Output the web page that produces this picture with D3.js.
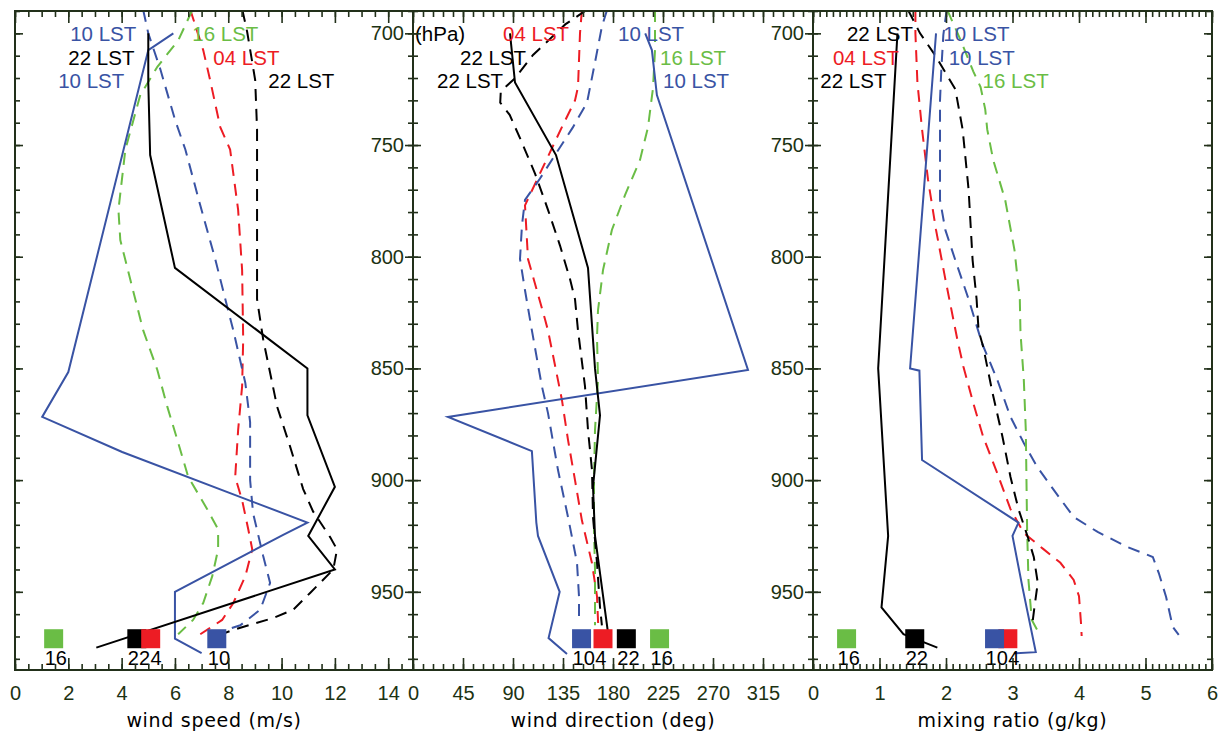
<!DOCTYPE html>
<html><head><meta charset="utf-8">
<script src="https://cdn.jsdelivr.net/npm/d3@7"></script>
<style>body{margin:0;background:#fff}svg{display:block}</style>
</head><body><svg id="c" width="1222" height="731"></svg>
<script>
// ---------- DATA ----------
const pressureMajor = [700, 750, 800, 850, 900, 950];
const speedTicks = [0, 2, 4, 6, 8, 10, 12, 14];
const dirTicks = [0, 45, 90, 135, 180, 225, 270, 315];
const mixTicks = [0, 1, 2, 3, 4, 5, 6];

const timeColors = {"04": "#ed1c24", "10": "#3953a4", "16": "#6abd45", "22": "#000000"};

// [pressure hPa, value]
// wind speed (m/s)
const speed10Obs = [[700,5.94],[707.5,5.0],[851.6,2.0],[871.7,1.02],[887.4,4.02],[919,10.97],[924.5,10.06],[950,6.0],[971,6.0],[977.4,7.0]];
const speed22Obs = [[700,5.0],[722,5.0],[754.5,5.07],[805,6.0],[850,10.97],[871,10.97],[903,12.0],[925,11.0],[940,12.0],[975,3.05]];
const speed04Mod = [[689.6,6.58],[707.5,7.06],[721,7.32],[742,7.70],[752,8.07],[779,8.37],[806,8.52],[837,8.56],[858,8.52],[877.6,8.37],[898.6,8.26],[909,8.52],[922,8.75],[931,8.90],[943,8.64],[955,8.19],[962.6,7.77],[969,6.95]];
const speed10Mod = [[689.6,4.81],[700,5.0],[716,5.45],[739,6.01],[752,6.39],[777,6.95],[801,7.51],[819,7.89],[833,8.19],[856.5,8.64],[874,8.82],[900,8.82],[914.7,8.93],[934,9.31],[946,9.57],[958,9.20],[965,8.45],[967,7.92]];
const speed16Mod = [[689.6,6.65],[703,6.13],[715,5.34],[727.6,4.70],[752,4.14],[779,3.88],[792.5,3.95],[810,4.32],[833,4.81],[850.7,5.34],[867,5.71],[882,6.09],[898.6,6.50],[913,7.21],[922,7.62],[931,7.62],[943,7.40],[955,7.06],[962.6,6.68],[969,6.12]];
const speed22Mod = [[689.6,8.53],[699.4,8.71],[720.9,9.01],[743,9.08],[819,9.08],[837,9.31],[867,9.83],[885,10.32],[904,10.81],[914,11.18],[925.5,11.82],[931,12.08],[940,11.94],[950.5,11.07],[958,10.44],[961.7,9.69],[967,8.19],[970,7.51]];

// wind direction (deg)
const dir10Obs = [[700,209],[707.5,215],[727.6,219.5],[850.7,301.5],[871.7,31.5],[887,107],[919,111],[925,112.5],[950,132],[970.7,122],[977.8,138.6]];
const dir22Obs = [[700,87.3],[722,91.8],[754.5,128.7],[805,157.5],[850,163.8],[871,168.3],[903,162],[925,163.8],[975,177.3]];
const dir04Mod = [[689.6,152],[700,150.3],[724,148.5],[730,145.8],[742,134],[763,114],[777,100.8],[801,103.5],[828,118.8],[833,121.5],[864,134],[882,139.5],[900,145.8],[918,152],[937,161],[952,165.6],[962.6,166.5],[969,167]];
const dir10Mod = [[689.6,174.6],[697,170],[713,163.8],[731,156.6],[742,144],[754.5,127.8],[765,114.3],[774.6,100.8],[785.8,98.1],[801,96.3],[815,100.8],[833,107],[858,116],[870,121.5],[895.5,130.5],[916.5,139.5],[937,147.6],[952,149.4],[964,149.4]];
const dir16Mod = [[689.6,217.8],[707.5,217.8],[724.5,216],[742,211.5],[756.7,204.3],[772.4,190.8],[788,179],[806,171],[824,166.5],[836,165.6],[855,166.5],[877.6,163.8],[900,162.9],[922,162.9],[940,163.8],[965,163.8]];
const dir22Mod = [[689.6,156],[696,137],[709.7,108],[720,92],[726,79],[731,78.5],[736.5,87],[747.7,97],[763,110],[779,121.5],[795,132.3],[810,141.3],[819,145.8],[833,148.5],[858,154.8],[877.6,157.5],[895.5,161.1],[916.5,162],[937,165.6],[956.8,168.3],[965,170]];

// mixing ratio (g/kg)
const mix10Obs = [[700,1.85],[850,1.46],[851,1.60],[891,1.64],[919,3.09],[925,3.0],[948,3.15],[977,3.35],[977.5,3.02]];
const mix22Obs = [[700,1.27],[850,0.98],[925,1.13],[957,1.03],[969,1.36],[975,1.87]];
const mix04Mod = [[689.6,1.54],[700,1.54],[722,1.57],[743,1.64],[765.6,1.73],[788,1.85],[810,1.99],[837,2.17],[849,2.26],[865.5,2.41],[880.7,2.56],[896.8,2.77],[913,2.97],[923.7,3.17],[931,3.47],[937,3.72],[944.7,3.92],[952,4.0],[964,4.03],[969.8,4.04]];
const mix10Mod = [[689.6,2.01],[700.7,1.96],[716,1.93],[730,1.91],[774.6,1.91],[788,1.99],[801.5,2.14],[819,2.34],[838.6,2.54],[855,2.77],[871.7,2.97],[883.4,3.17],[894,3.37],[904.4,3.62],[916.5,3.92],[923.2,4.28],[930,4.73],[934.4,5.11],[941.6,5.20],[952.3,5.31],[965.7,5.41],[969.3,5.50]];
const mix16Mod = [[689.6,2.02],[703,2.22],[717,2.41],[724,2.52],[734,2.59],[743,2.62],[756.7,2.71],[774.6,2.89],[797,3.03],[819,3.11],[834,3.12],[855,3.17],[877.6,3.20],[900,3.21],[922.3,3.22],[944.7,3.24],[962.6,3.29],[967,3.37]];
const mix22Mod = [[689.6,1.43],[700,1.61],[710,1.84],[725,2.14],[743,2.25],[770,2.34],[801.5,2.40],[819,2.46],[833,2.49],[840.4,2.56],[861,2.70],[880.7,2.85],[898.6,2.97],[913,3.09],[925.5,3.23],[934.4,3.32],[946,3.38],[956.8,3.33],[964,3.30]];

// surface markers (draw order: 16, 22, 04, 10)
const surfTimes = ["16", "22", "04", "10"];
const surfText = ["16", "22", "4", "10"];
const surfPressure = 971;
const speedSurf = [1.45, 4.57, 5.09, 7.57];
const dirSurf = [221.9, 192, 171, 151.7];
const mixSurf = [0.505, 1.53, 2.93, 2.73];

// series labels: [text, time, value(left edge), pressure]
const speedLabels = [["10 LST","10",2.07,700],["16 LST","16",6.65,700],["22 LST","22",2.0,711],["04 LST","04",7.44,711],["10 LST","10",1.62,721],["22 LST","22",9.5,721]];
const dirLabels = [["(hPa)","22",1.8,700],["04 LST","04",81,700],["10 LST","10",184.5,700],["22 LST","22",42.3,711],["16 LST","16",222.3,711],["22 LST","22",21.6,721],["10 LST","10",225,721]];
const mixLabels = [["22 LST","22",0.51,700],["10 LST","10",1.96,700],["04 LST","04",0.30,711],["10 LST","10",2.04,711],["22 LST","22",0.11,721],["16 LST","16",2.55,721]];

// ---------- LAYOUT ----------
const svg = d3.select("#c");
const TOP = 11, BOT = 670;
const axisColor = "#22301a";
const labelColor = "#1c3212";
const FONT = "Liberation Sans, Arial, sans-serif";
const y = d3.scaleLinear().domain([690, 985]).range([TOP, BOT]);

const panels = [
  {x0: 15, x1: 413, domain: [0, 14.93], ticks: speedTicks, minor: 0.5, title: "wind speed (m/s)",
   series: [["04",true,speed04Mod],["10",true,speed10Mod],["16",true,speed16Mod],["22",true,speed22Mod],["10",false,speed10Obs],["22",false,speed22Obs]],
   surf: speedSurf, labels: speedLabels, yLabels: false},
  {x0: 413, x1: 813, domain: [0, 360], ticks: dirTicks, minor: 9, title: "wind direction (deg)",
   series: [["04",true,dir04Mod],["10",true,dir10Mod],["16",true,dir16Mod],["22",true,dir22Mod],["10",false,dir10Obs],["22",false,dir22Obs]],
   surf: dirSurf, labels: dirLabels, yLabels: true},
  {x0: 813, x1: 1212, domain: [0, 6], ticks: mixTicks, minor: 0.1, title: "mixing ratio (g/kg)",
   series: [["04",true,mix04Mod],["10",true,mix10Mod],["16",true,mix16Mod],["22",true,mix22Mod],["10",false,mix10Obs],["22",false,mix22Obs]],
   surf: mixSurf, labels: mixLabels, yLabels: true}
];

const defs = svg.append("defs");
const pMinor = d3.range(690, 986, 10);

panels.forEach((P, i) => {
  const x = d3.scaleLinear().domain(P.domain).range([P.x0, P.x1]);
  defs.append("clipPath").attr("id", "clip" + i).append("rect")
    .attr("x", P.x0).attr("y", TOP).attr("width", P.x1 - P.x0).attr("height", BOT - TOP);
  const g = svg.append("g");
  const line = d3.line().x(d => x(d[1])).y(d => y(d[0]));

  P.series.forEach(([t, dashed, data]) => {
    g.append("path").datum(data)
      .attr("d", line).attr("fill", "none")
      .attr("stroke", timeColors[t]).attr("stroke-width", 2)
      .attr("stroke-dasharray", dashed ? "12,8" : null)
      .attr("clip-path", `url(#clip${i})`);
  });

  // series labels
  P.labels.forEach(([txt, t, v, p]) => {
    g.append("text").attr("x", x(v)).attr("y", y(p)).attr("dy", "0.36em")
      .attr("font-family", FONT).attr("font-size", 20.5)
      .attr("fill", timeColors[t]).text(txt);
  });

  // surface markers
  const ys = y(surfPressure);
  surfTimes.forEach((t, k) => {
    g.append("rect").attr("x", x(P.surf[k]) - 9.5).attr("y", ys - 9.5)
      .attr("width", 19).attr("height", 19).attr("fill", timeColors[t]);
  });
  // labels left-aligned under squares, pushed right if they would collide
  const order = d3.range(surfTimes.length).sort((a, b) => P.surf[a] - P.surf[b]);
  let lastEnd = -Infinity;
  order.forEach(k => {
    let lx = Math.max(x(P.surf[k]) - 9, lastEnd);
    const tx = g.append("text").attr("x", lx).attr("y", ys + 26)
      .attr("font-family", FONT).attr("font-size", 20)
      .attr("fill", "#000").text(surfText[k]);
    lastEnd = lx + tx.node().getComputedTextLength() + 0.5;
  });

  // axes
  const styleAxis = sel => { sel.select(".domain").remove(); sel.attr("color", axisColor).selectAll("line").attr("stroke-width", 1.6); };
  const minorVals = d3.range(P.domain[0], P.domain[1] + 1e-9, P.minor);
  svg.append("g").attr("transform", `translate(0,${BOT})`)
    .call(d3.axisBottom(x).tickValues(minorVals).tickSizeInner(-6).tickSizeOuter(0).tickFormat(""))
    .call(styleAxis);
  const xb = svg.append("g").attr("transform", `translate(0,${BOT})`)
    .call(d3.axisBottom(x).tickValues(P.ticks).tickSizeInner(-12).tickSizeOuter(0).tickPadding(16).tickFormat(d3.format("d")))
    .call(styleAxis);
  xb.selectAll("text").attr("font-family", FONT).attr("font-size", 20).attr("fill", labelColor);
  svg.append("g").attr("transform", `translate(0,${TOP})`)
    .call(d3.axisTop(x).tickValues(minorVals).tickSizeInner(-6).tickSizeOuter(0).tickFormat(""))
    .call(styleAxis);
  svg.append("g").attr("transform", `translate(0,${TOP})`)
    .call(d3.axisTop(x).tickValues(P.ticks).tickSizeInner(-12).tickSizeOuter(0).tickFormat(""))
    .call(styleAxis);

  [[d3.axisLeft, P.x0], [d3.axisRight, P.x1]].forEach(([ax, xp]) => {
    svg.append("g").attr("transform", `translate(${xp},0)`)
      .call(ax(y).tickValues(pMinor).tickSizeInner(-5).tickSizeOuter(0).tickFormat(""))
      .call(styleAxis);
    svg.append("g").attr("transform", `translate(${xp},0)`)
      .call(ax(y).tickValues(pressureMajor).tickSizeInner(-8).tickSizeOuter(0).tickFormat(""))
      .call(styleAxis);
  });
  if (P.yLabels) {
    const yl = svg.append("g").attr("transform", `translate(${P.x0},0)`)
      .call(d3.axisLeft(y).tickValues(pressureMajor).tickSizeInner(0).tickSizeOuter(0).tickPadding(9));
    yl.select(".domain").remove();
    yl.selectAll("text").attr("font-family", FONT).attr("font-size", 20).attr("fill", labelColor);
  }

  // frame
  svg.append("rect").attr("x", P.x0).attr("y", TOP).attr("width", P.x1 - P.x0).attr("height", BOT - TOP)
    .attr("fill", "none").attr("stroke", axisColor).attr("stroke-width", 2);

  // title
  svg.append("text").attr("x", (P.x0 + P.x1) / 2).attr("y", 727)
    .attr("text-anchor", "middle").attr("font-family", "DejaVu Sans, sans-serif").attr("font-size", 19)
    .attr("letter-spacing", 0.7).attr("fill", "#000").text(P.title);
});
</script></body></html>
